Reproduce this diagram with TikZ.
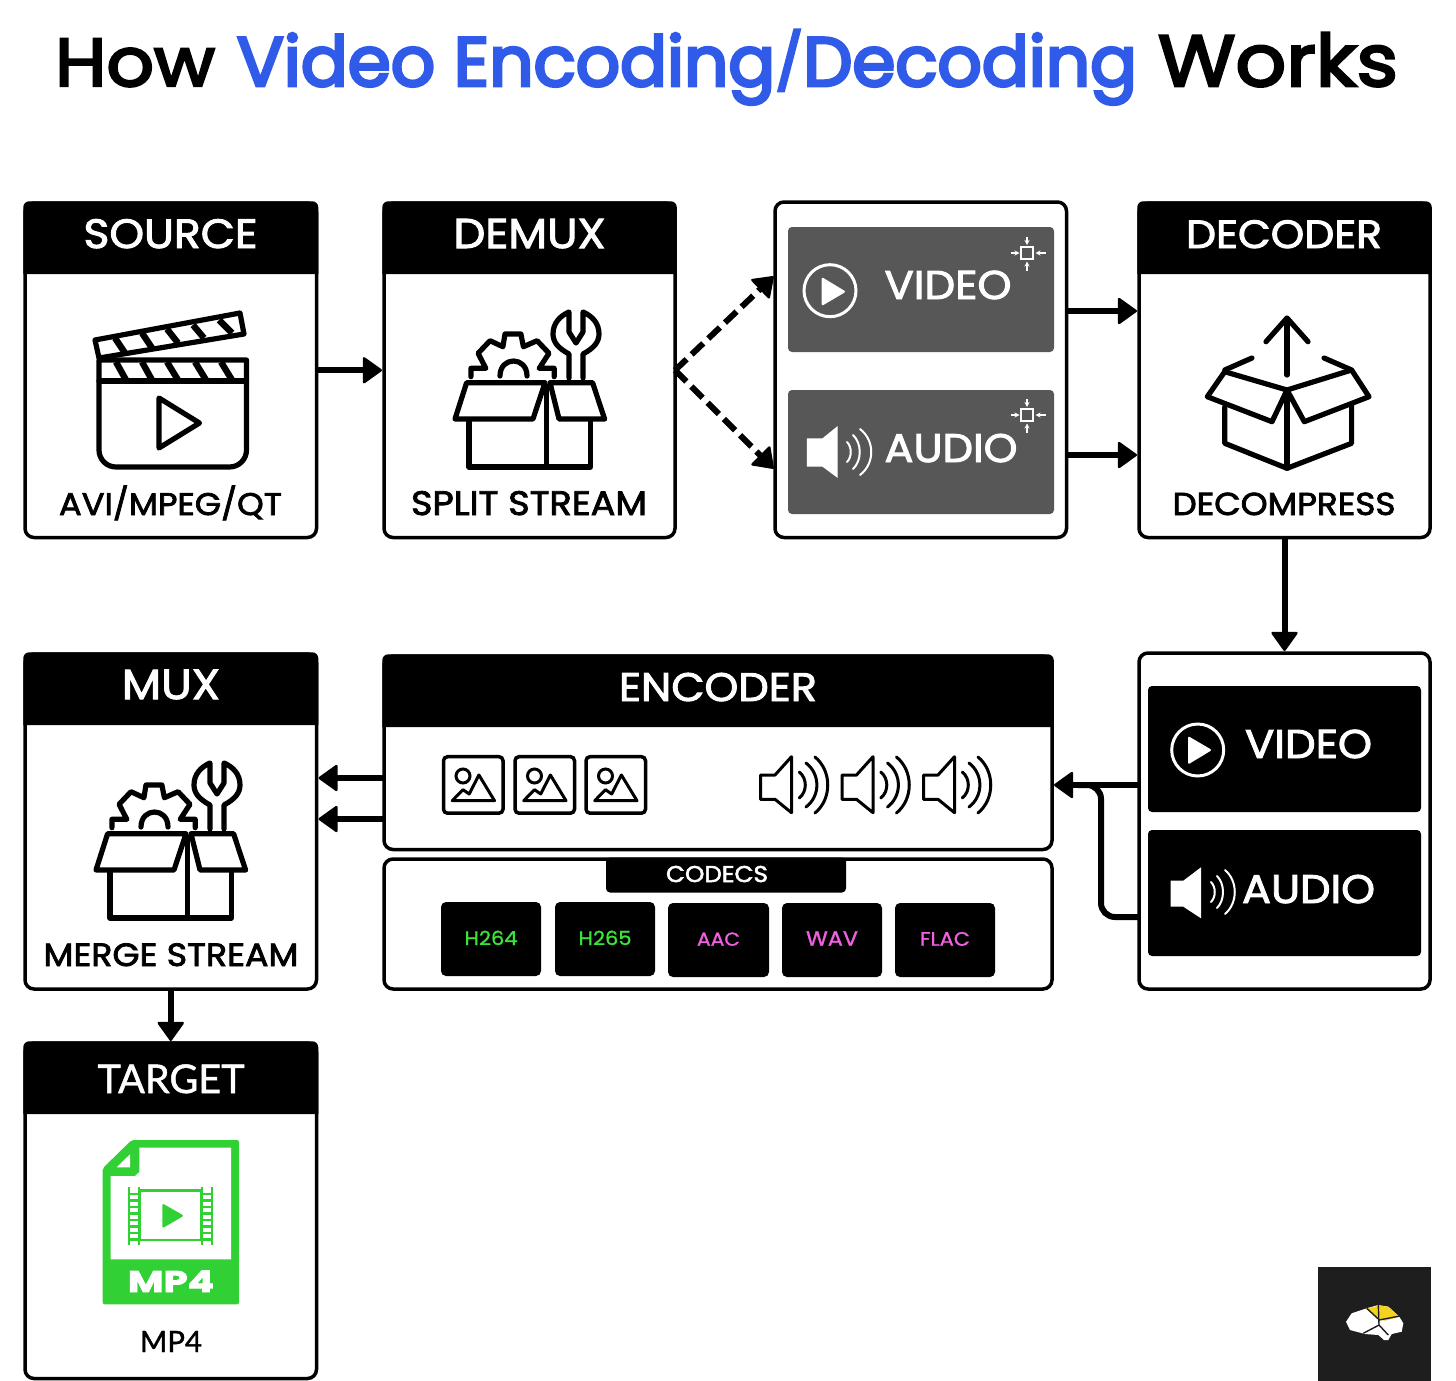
\documentclass[tikz,border=0pt]{standalone}
\usepackage{graphicx}
\usepackage{fontspec}
\usetikzlibrary{arrows.meta,fit,calc}
\newfontfamily\popr{Poppins}[FakeBold=2.4,FakeStretch=1.08]
\newfontfamily\popt{Poppins}[FakeBold=4.2]
\newfontfamily\poptw{Poppins}[FakeBold=3.6,FakeStretch=1.1]
\newfontfamily\popl{Poppins}[FakeBold=1.2,FakeStretch=1.08]
\newfontfamily\popb{Poppins}[FakeBold=3,FakeStretch=1.3]
\newfontfamily\lat{Lato}[FakeBold=1.2]
\definecolor{titleblue}{HTML}{2F5BE8}
\definecolor{greypanel}{HTML}{575757}
\definecolor{chipgreen}{HTML}{3BE23B}
\definecolor{chippink}{HTML}{F060E0}
\definecolor{filegreen}{HTML}{31D035}
\definecolor{logodark}{HTML}{1E1E1E}
\definecolor{logoyellow}{HTML}{F5D21F}
\tikzset{
  panelbox/.style={draw=black,line width=1.75pt,rounded corners=4.5pt,inner sep=0pt,outer sep=0pt},
  chipbox/.style={fill=black,rounded corners=2.5pt,inner sep=0pt,outer sep=0pt},
  greybox/.style={fill=greypanel,rounded corners=2pt,inner sep=0pt,outer sep=0pt},
  blackbox/.style={fill=black,rounded corners=2pt,inner sep=0pt,outer sep=0pt},
  arr/.style={line width=3pt,shorten >=1pt,-{Triangle[length=10pt,width=14pt,round,line width=1.2pt]}},
  arrdash/.style={line width=3pt,shorten >=1pt,dash pattern=on 8pt off 3.5pt,-{Triangle[length=10pt,width=14pt,round,line width=1.2pt]}},
  icon/.style={line width=2.6pt,line join=round,line cap=round,draw=black},
  whiteicon/.style={line width=1.5pt,draw=white},
  lbl/.style={inner sep=0pt,outer sep=0pt,anchor=base}
}
% name, cx, baseline, width px, colour, font, text
\newcommand{\lab}[7]{\node[lbl,text=#5] (#1) at (#2,#3) {\resizebox{\dimexpr #4pt/2\relax}{!}{#6\fontsize{20pt}{24pt}\selectfont #7}};}
% name x1 y1 x2 y2 headerbottom
\newcommand{\panel}[6]{%
  \node[panelbox,fit={(#2,#3)(#4,#5)}] (#1) {};
  \fill[black] (#2-1.75,#6) -- (#2-1.75,#3+4.25) arc[start angle=180,end angle=90,radius=3pt] -- (#4+1.75-6,#3-1.75) arc[start angle=90,end angle=0,radius=3pt] -- (#4+1.75,#6) -- cycle;
}
\newcommand{\wave}[4]{\draw (#1,#2-#4) .. controls (#1+#3,#2-0.5*#4) and (#1+#3,#2+0.5*#4) .. (#1,#2+#4);}
\newcommand{\boxtools}{%
  \draw[icon] (469,420) -- (469,467) -- (590.5,467) -- (590.5,420);
  \draw[icon] (546.5,386) -- (546.5,467);
  \draw[icon] (466.6,382.7) -- (545,382.7) -- (533,419) -- (455,419) -- cycle;
  \draw[icon] (550,382.7) -- (592.6,382.7) -- (604.6,419) -- (559,419) -- cycle;
  \draw[icon] (470.9,376.7) -- (470.9,368.3) -- (485.8,368.3) -- (478.1,353.3) -- (490,340.7) -- (502.9,346.7) -- (505,334) -- (520.9,334) -- (523.4,346.7) -- (537.1,340.7) -- (549,353.3) -- (539.2,368.3) -- (554.2,368.3) -- (554.2,376.7);
  \draw[icon] (500,376) .. controls (500,356) and (527,356) .. (527,376);
  \draw[icon] (569,378) -- (569,354) .. controls (558,348) and (553,342) .. (553,334) .. controls (553,323) and (560,316) .. (569,312) -- (569,332) -- (576,343) -- (583,332) -- (583,312) .. controls (592,316) and (599,323) .. (599,334) .. controls (599,342) and (594,348) .. (583,354) -- (583,378);
}
\newcommand{\compress}{%
  \draw[white,line width=0.8pt] (1021,247) rectangle (1033,259);
  \draw[white,line width=0.6pt,-{Stealth[length=2.5pt,width=2.5pt]}] (1027,237) -- (1027,245);
  \draw[white,line width=0.6pt,-{Stealth[length=2.5pt,width=2.5pt]}] (1027,271) -- (1027,261.5);
  \draw[white,line width=0.6pt,-{Stealth[length=2.5pt,width=2.5pt]}] (1010.8,253) -- (1019.5,253);
  \draw[white,line width=0.6pt,-{Stealth[length=2.5pt,width=2.5pt]}] (1045.6,253) -- (1035.5,253);
}
\newcommand{\photo}{%
  \draw[line width=1.75pt,rounded corners=2pt] (0,0) rectangle (59.5,56.5);
  \draw[line width=1.5pt] (19.5,19.3) circle[radius=3.5pt];
  \draw[line width=1.5pt,line join=round] (8.7,44) -- (19.5,33) -- (25.7,37.3) -- (35.4,18.3) -- (51,44) -- cycle;
}
\newcommand{\speaker}{%
  \draw[line width=1.5pt,line join=round] (760.5,775) -- (775,775) -- (791.5,756.7) -- (791.5,812.7) -- (775,799.3) -- (760.5,799.3) -- cycle;
  \begin{scope}[line width=1.5pt,line cap=round]
  \wave{799.3}{785}{8}{13}
  \wave{806}{785}{14.5}{22}
  \wave{815}{785}{17}{28}
  \end{scope}
}
\begin{document}
\begin{tikzpicture}[x=0.5pt,y=-0.5pt]
\useasboundingbox (0,0) rectangle (1456,1381);
\fill[white] (0,0) rectangle (1456,1381);

% title
\lab{t1}{135}{86}{160}{black}{\poptw}{How}
\lab{t2}{687}{86}{900}{titleblue}{\popt}{Video Encoding\raisebox{0.06em}{\scalebox{0.85}[0.8]{/}}Decoding}
\lab{t3}{1278}{86}{240}{black}{\poptw}{Works}

% panels
\panel{src}{25}{203}{316.5}{537.5}{274}
\panel{dmx}{384}{203}{675}{537.5}{274}
\panel{dec}{1139}{203}{1430}{537.5}{274}
\panel{mux}{25}{654}{316.5}{989}{725}
\panel{enc}{384}{656}{1052}{849.5}{727}
\panel{tgt}{25}{1043}{316.5}{1378.5}{1114}
\node[panelbox,fit={(775,202)(1066.5,537.5)}] (mid) {};
\node[panelbox,fit={(1139,653)(1430,989)}] (rbx) {};
\node[panelbox,fit={(384,859)(1052,989)}] (cdc) {};

% header labels
\lab{lsrc}{170.5}{248}{174}{white}{\popr}{SOURCE}
\lab{ldmx}{529.5}{248}{152}{white}{\popr}{DEMUX}
\lab{ldec}{1284}{248}{196}{white}{\popr}{DECODER}
\lab{lmux}{171}{699}{98}{white}{\popr}{MUX}
\lab{lenc}{718}{701}{198}{white}{\popr}{ENCODER}
\lab{ltgt}{171}{1093}{147}{white}{\lat}{TARGET}

% footer labels
\lab{favi}{170.5}{515}{223}{black}{\popr}{AVI/MPEG/QT}
\lab{fspl}{529}{515}{236}{black}{\popr}{SPLIT STREAM}
\lab{fdec}{1284}{515}{223}{black}{\popr}{DECOMPRESS}
\lab{fmer}{171}{966}{255}{black}{\popr}{MERGE STREAM}
\lab{fmp4}{171}{1352}{62}{black}{\lat}{MP4}

% clapperboard
\draw[icon] (99,360) -- (246.5,360) -- (246.5,450) arc[start angle=0,end angle=-90,radius=8.5pt] -- (116,467) arc[start angle=-90,end angle=-180,radius=8.5pt] -- cycle;
\draw[icon] (99,381) -- (246.5,381);
\draw[icon] (95,340) -- (240,313) -- (244,334) -- (99,358) -- cycle;
\foreach \a/\b/\c/\d in {116/362/126/380,142/362/152/380,167/362/178/380,195/362/206/380,221/362/232/380,115/338/125/353,142/333/152/348,167/329/178/343,193/325/204/338,219/320/232/333}{
  \draw[line width=3.2pt,line cap=butt] (\a,\b) -- (\c,\d);
}
\draw[icon] (159,398) -- (199.5,423) -- (159,448) -- cycle;

% demux and mux icons
\boxtools
\begin{scope}[shift={(-359,451)}]\boxtools\end{scope}

% mid panel
\node[greybox,fit={(788,227)(1054,352)}] (gv) {};
\node[greybox,fit={(788,390)(1054,514)}] (ga) {};
\draw[whiteicon] (830,290.7) circle[radius=13pt];
\fill[white,rounded corners=1pt] (821.7,277) -- (846,291.7) -- (821.7,306) -- cycle;
\lab{lgv}{948}{299}{127}{white}{\popr}{VIDEO}
\lab{lga}{951}{462}{133}{white}{\popr}{AUDIO}
\compress
\begin{scope}[shift={(0,162)}]\compress\end{scope}
\fill[white] (806.8,438.3) -- (822.5,438.3) -- (837.7,426) -- (837.7,478) -- (822.5,466.7) -- (806.8,466.7) -- cycle;
\begin{scope}[white,line width=1pt,line cap=round]
  \wave{847}{452}{5}{10}
  \wave{853}{452}{9}{17}
  \wave{860}{452}{15}{23}
\end{scope}

% decoder icon
\draw[icon] (1287,375) -- (1287,319);
\draw[icon] (1266,341.7) -- (1287,318) -- (1308,341.7);
\draw[icon] (1224.7,371.7) -- (1287,390) -- (1272,421.7) -- (1207.3,396.7) -- cycle;
\draw[icon] (1351.6,370) -- (1287,390) -- (1304.3,421.7) -- (1369,396.7) -- cycle;
\draw[icon] (1224.7,370) -- (1252,358);
\draw[icon] (1351.6,370) -- (1324,358);
\draw[icon] (1224.7,407) -- (1224.7,443.3) -- (1287,468.3) -- (1351.6,443.3) -- (1351.6,405);
\draw[icon] (1287,390) -- (1287,468.3);

% right panel
\node[blackbox,fit={(1148,686)(1421,812)}] (bv) {};
\node[blackbox,fit={(1148,830)(1421,956)}] (ba) {};
\draw[whiteicon] (1197.7,750) circle[radius=13pt];
\fill[white,rounded corners=1pt] (1188,736) -- (1212,750) -- (1188,764.5) -- cycle;
\lab{lbv}{1308.5}{758}{127}{white}{\popr}{VIDEO}
\lab{lba}{1308.5}{903}{133}{white}{\popr}{AUDIO}
\fill[white] (1170.7,880.7) -- (1183.3,880.7) -- (1201,867.3) -- (1201,918.3) -- (1183.3,906.7) -- (1170.7,906.7) -- cycle;
\begin{scope}[white,line width=1pt,line cap=round]
  \wave{1211}{892}{5}{10}
  \wave{1217}{892}{8}{16}
  \wave{1225}{892}{13}{22}
\end{scope}

% encoder icons
\begin{scope}[shift={(443.5,756.7)}]\photo\end{scope}
\begin{scope}[shift={(515,756.7)}]\photo\end{scope}
\begin{scope}[shift={(586,756.7)}]\photo\end{scope}
\speaker
\begin{scope}[shift={(81.5,0)}]\speaker\end{scope}
\begin{scope}[shift={(163,0)}]\speaker\end{scope}

% codecs
\fill[black,rounded corners=2pt] (606,857.5) -- (606,892.5) -- (846,892.5) -- (846,857.5) -- cycle;
\lab{lcdc}{717}{882}{102}{white}{\popr}{CODECS}
\node[chipbox,fit={(441,902)(541,976)}] (c1) {};
\node[chipbox,fit={(555,902)(655,976)}] (c2) {};
\node[chipbox,fit={(668,903)(769,977)}] (c3) {};
\node[chipbox,fit={(782,903)(882,977)}] (c4) {};
\node[chipbox,fit={(895,903)(995,977)}] (c5) {};
\lab{l1}{491}{945}{53}{chipgreen}{\popl}{H264}
\lab{l2}{605}{945}{53}{chipgreen}{\popl}{H265}
\lab{l3}{718.5}{945.7}{43}{chippink}{\popl}{AAC}
\lab{l4}{832}{945.7}{52}{chippink}{\popl}{WAV}
\lab{l5}{945}{945.7}{50}{chippink}{\popl}{FLAC}

% target icon
\fill[filegreen,rounded corners=1pt] (102.7,1168.3) -- (131.7,1140) -- (239,1140) -- (239,1304.3) -- (102.7,1304.3) -- cycle;
\fill[white] (139.3,1147.7) -- (231,1147.7) -- (231,1259.3) -- (110.7,1259.3) -- (110.7,1176) -- (135,1176) -- (139.3,1172) -- cycle;
\fill[white] (116.7,1167.3) -- (130,1154.3) -- (130,1167.3) -- cycle;
\draw[filegreen,line width=1.4pt] (139.3,1190.7) rectangle (201.7,1240);
\draw[filegreen,line width=1pt] (129,1187) -- (129,1245) (139.3,1187) -- (139.3,1245) (201.7,1187) -- (201.7,1245) (212.3,1187) -- (212.3,1245);
\foreach \yy in {1194,1200.5,1207,1213.5,1220,1226.5,1233,1239.5}{
  \draw[filegreen,line width=1.1pt] (129,\yy) -- (139.3,\yy) (201.7,\yy) -- (212.3,\yy);
}
\fill[filegreen,rounded corners=1pt] (162.3,1203.3) -- (184,1215.7) -- (162.3,1228.3) -- cycle;
\lab{lfile}{171}{1292}{86}{white}{\popb\bfseries}{MP4}

% connectors
\draw[arr] (src) -- (dmx);
\coordinate (mv) at (mid.west |- 0,275);
\coordinate (ma) at (mid.west |- 0,470);
\draw[arrdash] (dmx.east) -- (mv);
\draw[arrdash] (dmx.east) -- (ma);
\draw[arr] (mid.east |- 0,311) -- (dec.west |- 0,311);
\draw[arr] (mid.east |- 0,455) -- (dec.west |- 0,455);
\draw[arr] (dec) -- (rbx);
\draw[arr] (rbx.west |- 0,785) -- (enc.east |- 0,785);
\coordinate (mj) at (1101,785);
\coordinate (mk) at (1101,917);
\draw[line width=3pt,rounded corners=7pt] (rbx.west |- mk) -- (mk) -- (mj) -- (1078,785);
\draw[arr] (enc.west |- 0,778) -- (mux.east |- 0,778);
\draw[arr] (enc.west |- 0,819) -- (mux.east |- 0,819);
\draw[arr] (mux) -- (tgt);

% logo
\node[fill=logodark,inner sep=0pt,outer sep=0pt,fit={(1317.5,1267)(1431,1381)}] (logo) {};
\fill[white] (1346,1321.7) -- (1351.7,1313.3) -- (1366.7,1308.3) -- (1378.3,1305) -- (1388.3,1306.7) -- (1399.3,1316.7) -- (1403.3,1323.3) -- (1401.7,1331.7) -- (1391.7,1334) -- (1388.3,1340) -- (1384,1340) -- (1378.3,1335) -- (1365,1334) -- (1350,1330) -- cycle;
\fill[logoyellow] (1366.7,1308.3) -- (1377.7,1306) -- (1378.3,1318.3) -- cycle;
\fill[logoyellow] (1379,1305.7) -- (1388.3,1306.7) -- (1399.3,1316.7) -- (1385,1320.7) -- (1379.3,1319.3) -- cycle;
\draw[logodark,line width=0.7pt] (1378.3,1305) -- (1379,1325) -- (1363.3,1333.3) (1379,1325) -- (1388.3,1335) (1379,1320) -- (1400,1316) (1366.7,1308.3) -- (1378.3,1319);
\end{tikzpicture}
\end{document}
